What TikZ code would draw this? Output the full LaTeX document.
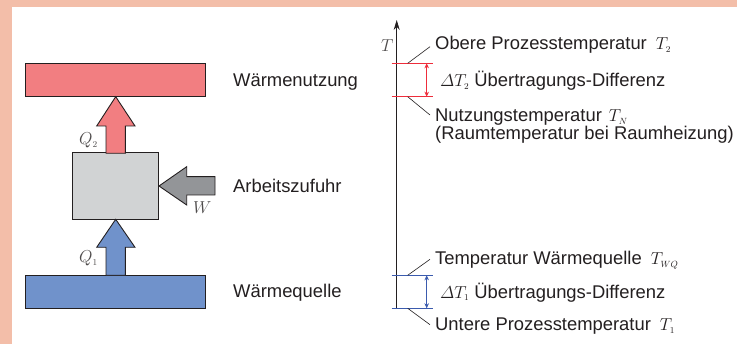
\documentclass[tikz,border=0pt]{standalone}
\usepackage{fontspec}
\setmainfont{Liberation Sans}
\usetikzlibrary{arrows.meta}
\definecolor{bgsalmon}{HTML}{F3BEA9}
\definecolor{heatred}{HTML}{F27E81}
\definecolor{heatblue}{HTML}{7092CB}
\definecolor{boxgray}{HTML}{D1D3D4}
\definecolor{arrgray}{HTML}{939598}
\definecolor{linered}{HTML}{EE2D3B}
\definecolor{lineblue}{HTML}{3B5BAE}
\definecolor{ink}{HTML}{231F20}
\begin{document}
\begin{tikzpicture}[x=1pt,y=-1pt,
  font=\fontsize{18.4}{15}\selectfont,
  block/.style={draw=ink, line width=0.9pt, inner sep=0pt, outer sep=0pt},
  txt/.style={anchor=base west, inner sep=0pt, text=ink},
  mlbl/.style={anchor=base west, inner sep=0pt, text=ink!80},
  leader/.style={draw=ink, line width=0.6pt},
  levelred/.style={draw=linered, line width=0.9pt},
  levelblue/.style={draw=lineblue, line width=0.9pt},
  dimarrow/.style={line width=0.7pt, {Stealth[length=5pt,width=4.5pt]}-{Stealth[length=5pt,width=4.5pt]}},
  blockarrow/.style={draw=ink, line width=0.9pt, line join=miter}
]
% background
\fill[bgsalmon] (0,0) rectangle (737,344);
\fill[white] (12,7.3) rectangle (737,344);
\useasboundingbox (0,0) rectangle (737,344);

% left column blocks
\node[block, fill=heatred, minimum width=180pt, minimum height=33.4pt] (use) at (115.7,80) {};
\node[block, fill=heatblue, minimum width=180pt, minimum height=33pt] (src) at (115.7,291.8) {};
\node[block, fill=boxgray, minimum width=85.3pt, minimum height=66.6pt] (hp) at (115.35,186) {};

% block arrows
\filldraw[blockarrow, fill=heatred] (106,153.3) -- (106,126) -- (96.7,126) -- (115.7,96.7) -- (135,126) -- (125.3,126) -- (125.3,153.3) -- cycle;
\filldraw[blockarrow, fill=heatblue] (106,275.3) -- (106,247.3) -- (96.7,247.3) -- (115.7,219.3) -- (135,247.3) -- (125.3,247.3) -- (125.3,275.3) -- cycle;
\filldraw[blockarrow, fill=arrgray] (215,176.7) -- (186.7,176.7) -- (186.7,166.7) -- (159,186) -- (186.7,205) -- (186.7,195) -- (215,195) -- cycle;

% labels of arrows
\node[mlbl] (q2) at (79,145) {$Q_{\scriptscriptstyle 2}$};
\node[mlbl] (q1) at (79,263) {$Q_{\scriptscriptstyle 1}$};
\node[mlbl] (w) at (193,213.3) {$W$};

% left texts
\node[txt] (tuse) at (233,87) {Wärmenutzung};
\node[txt] (twork) at (233,193) {Arbeitszufuhr};
\node[txt] (tsrc) at (233,298) {Wärmequelle};

% temperature axis
\coordinate (axb) at (396.7,308.3);
\coordinate (axt) at (396.7,20);
\draw[line width=0.8pt, draw=ink, -{Stealth[length=10pt,width=6pt]}] (axb) -- (axt);
\node[mlbl] (tlab) at (381,51.7) {$T$};

% upper levels
\coordinate (u1l) at (391.7,63.3);  \coordinate (u1r) at (432.7,63.3);
\coordinate (u2l) at (391.7,96.7);  \coordinate (u2r) at (432.7,96.7);
\draw[levelred] (u1l) -- (u1r);
\draw[levelred] (u2l) -- (u2r);
\coordinate (u1d) at (426.7,63.3); \coordinate (u2d) at (426.7,96.7);
\draw[dimarrow, draw=linered, fill=linered] (u1d) -- (u2d);
\coordinate (u1a) at (407.7,63.3); \coordinate (u1e) at (430,46.7);
\coordinate (u2a) at (407.7,96.7); \coordinate (u2e) at (430,115);
\draw[leader] (u1a) -- (u1e);
\draw[leader] (u2a) -- (u2e);

\node[txt] (tobere) at (435,50) {Obere Prozesstemperatur\hspace{9pt}$T_{\scriptscriptstyle 2}$};
\node[txt] (tdt2) at (440,87) {$\mathnormal{\Delta} T_{\scriptscriptstyle 2}$ Übertragungs-Differenz};
\node[txt, anchor=north west, align=left] (tnutz) at (435,108.6) {Nutzungstemperatur\hspace{7pt}$T_{\scriptscriptstyle N}$\\(Raumtemperatur bei Raumheizung)};

% lower levels
\coordinate (l1l) at (391.7,275.3);  \coordinate (l1r) at (432.7,275.3);
\coordinate (l2l) at (391.7,308.3);  \coordinate (l2r) at (432.7,308.3);
\draw[levelblue] (l1l) -- (l1r);
\draw[levelblue] (l2l) -- (l2r);
\coordinate (l1d) at (426.7,275.3); \coordinate (l2d) at (426.7,308.3);
\draw[dimarrow, draw=lineblue, fill=lineblue] (l1d) -- (l2d);
\coordinate (l1a) at (407.7,275.3); \coordinate (l1e) at (430,259.3);
\coordinate (l2a) at (407.7,308.3); \coordinate (l2e) at (430,324.7);
\draw[leader] (l1a) -- (l1e);
\draw[leader] (l2a) -- (l2e);

\node[txt] (twq) at (435,265) {Temperatur Wärmequelle\hspace{9pt}$T_{\scriptscriptstyle WQ}$};
\node[txt] (tdt1) at (440,298.3) {$\mathnormal{\Delta} T_{\scriptscriptstyle 1}$ Übertragungs-Differenz};
\node[txt] (tunt) at (435,330.7) {Untere Prozesstemperatur\hspace{9pt}$T_{\scriptscriptstyle 1}$};
\end{tikzpicture}
\end{document}
